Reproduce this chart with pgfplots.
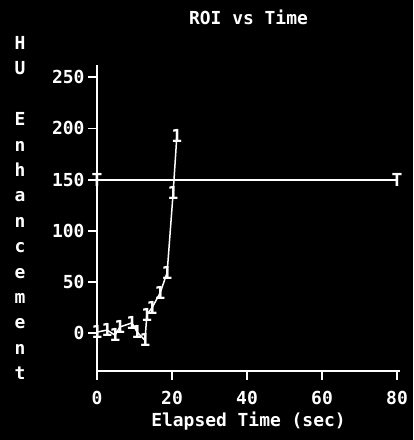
\documentclass[border=0pt]{standalone}
\usepackage{fontspec}
\setmainfont{DejaVu Sans Mono}
\usepackage{pgfplots}
\pgfplotsset{compat=1.18}
\begin{document}
\begin{tikzpicture}[x=1bp,y=1bp]
\useasboundingbox (-97,-69) rectangle (316,371);
\fill[black] (-97,-69) rectangle (316,371);
\begin{axis}[
  at={(0,0)}, anchor=south west, scale only axis,
  width=303bp, height=306bp,
  xmin=0, xmax=80.8, ymin=-37, ymax=262,
  axis x line*=bottom, axis y line*=left,
  axis line style={white, line width=1.8bp, -},
  xtick={0,20,...,80}, ytick={0,50,...,250},
  tick align=outside, major tick length=9bp,
  tick style={white, line width=1.8bp},
  ticklabel style={white, font=\bfseries\fontsize{18}{18}\selectfont},
  xticklabel style={yshift=-8bp},
  /pgf/number format/assume math mode=true,
  title={ROI vs Time},
  title style={white, font=\bfseries\fontsize{18}{18}\selectfont, at={(axis description cs:0.5,1)}, anchor=center, yshift=42bp},
  xlabel={Elapsed Time (sec)},
  xlabel style={white, font=\bfseries\fontsize{18}{18}\selectfont, at={(axis description cs:0.5,0)}, anchor=center, yshift=-50bp},
  clip=false,
]
\addplot[white, line width=1.8bp, mark=text, text mark={T}, text mark as node=true,
  text mark style={text=white, inner sep=0pt, font=\bfseries\fontsize{18}{18}\selectfont}]
  coordinates {(0,150) (80,150)};
\addplot[white, line width=1.5bp, mark=text, text mark={1}, text mark as node=true,
  text mark style={text=white, inner sep=0pt, font=\bfseries\fontsize{18}{18}\selectfont}]
  coordinates {
  (0,1) (2.7,3) (4.8,-2) (6.1,6) (9.3,10) (10.7,1) (12.8,-7) (13.3,18)
  (14.7,25) (16.8,39) (18.7,59) (20.3,137) (21.3,193)
  };
\end{axis}
\node[white, align=center, font=\bfseries\fontsize{18}{25.5}\selectfont] at (-77,163)
  {H\\U\\~\\E\\n\\h\\a\\n\\c\\e\\m\\e\\n\\t};
\end{tikzpicture}
\end{document}
